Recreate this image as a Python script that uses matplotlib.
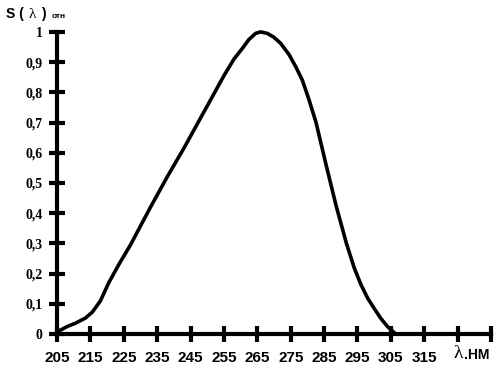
import numpy as np
import matplotlib
matplotlib.use("Agg")
import matplotlib.pyplot as plt

# spectral sensitivity
wavelength = [205, 206, 208, 210.5, 213.5, 215.6, 218, 220.5, 223.5, 227,
              233, 238, 243, 248, 252, 255, 258, 260.5, 262.5, 264.5, 266,
              268, 270, 272, 274.5, 276.5, 278.5, 280.5, 282.6, 285.6, 288.6,
              291.7, 294, 296, 298, 300, 302, 304, 306.5]
sensitivity = [0.0, 0.013, 0.025, 0.036, 0.053, 0.073, 0.11, 0.17, 0.23, 0.295,
               0.42, 0.52, 0.615, 0.715, 0.795, 0.855, 0.91, 0.945, 0.975,
               0.995, 1.0, 0.995, 0.982, 0.962, 0.925, 0.885, 0.84, 0.775,
               0.70, 0.56, 0.425, 0.30, 0.22, 0.165, 0.12, 0.085, 0.052,
               0.025, 0.0]

x_ticks = list(range(205, 336, 10))
x_labels = [str(t) if t <= 315 else "" for t in x_ticks]
y_ticks = [0, 0.1, 0.2, 0.3, 0.4, 0.5, 0.6, 0.7, 0.8, 0.9, 1.0]
y_labels = ["0", "0,1", "0,2", "0,3", "0,4", "0,5", "0,6", "0,7", "0,8", "0,9", "1"]

fig = plt.figure(figsize=(5, 3.75), dpi=100)
ax = fig.add_axes([0.114, 0.109, 0.868, 0.806])

ax.plot(wavelength, sensitivity, color="black", lw=2.6, clip_on=False,
        solid_capstyle="round", solid_joinstyle="round")

ax.set_xlim(205, 335)
ax.set_ylim(0, 1)
for s in ["top", "right"]:
    ax.spines[s].set_visible(False)
for s in ["left", "bottom"]:
    ax.spines[s].set_linewidth(3)

ax.set_xticks(x_ticks)
ax.set_xticklabels(x_labels, fontsize=11, fontweight="bold",
                   family="Liberation Sans")
ax.set_yticks(y_ticks)
ax.set_yticklabels(y_labels, fontsize=10, fontweight="bold",
                   family="Liberation Serif")
ax.tick_params(axis="x", direction="inout", length=11, width=3, pad=7)
ax.tick_params(axis="y", direction="inout", length=11, width=3, pad=5)

# axis captions
fig.text(0.012, 0.962, "S (", fontsize=10, fontweight="bold",
         family="Liberation Sans", va="center")
fig.text(0.058, 0.962, "λ", fontsize=11, family="Liberation Serif",
         va="center")
fig.text(0.082, 0.962, ")", fontsize=10, fontweight="bold",
         family="Liberation Sans", va="center")
fig.text(0.104, 0.955, "отн", fontsize=6, fontweight="bold",
         family="Liberation Sans", va="center")

fig.text(0.906, 0.058, "λ", fontsize=14, family="Liberation Serif",
         va="center")
fig.text(0.928, 0.053, ".НМ", fontsize=10, fontweight="bold",
         family="Liberation Sans", va="center")

fig.savefig("out.png", dpi=100)
